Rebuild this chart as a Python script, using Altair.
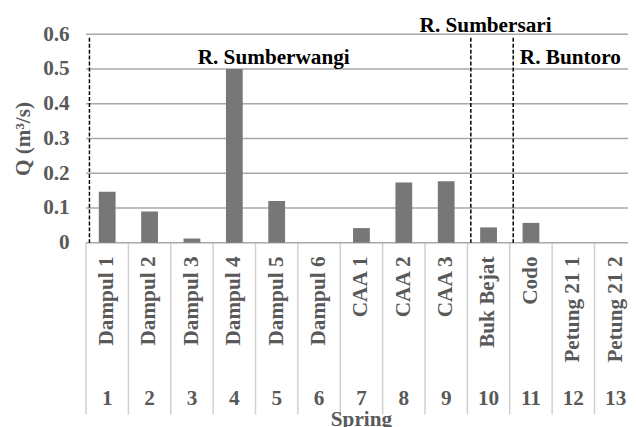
import altair as alt
import pandas as pd

# ---- data ----
nums = list(range(1, 14))
names = ["Dampul 1", "Dampul 2", "Dampul 3", "Dampul 4", "Dampul 5", "Dampul 6",
         "CAA 1", "CAA 2", "CAA 3", "Buk Bejat", "Codo", "Petung 21 1", "Petung 21 2"]
q = [0.147, 0.090, 0.012, 0.500, 0.120, 0.0, 0.042, 0.173, 0.177, 0.044, 0.057, 0.0, 0.0]
region_names = ["R. Sumberwangi", "R. Sumbersari", "R. Buntoro"]
region_x = [5, 10, 12]
region_y = [0.515, 0.606, 0.515]
divider_x = [1, 10, 11]
divider_top = [0.59, 0.59, 0.59]
y_ticks = [0, 0.1, 0.2, 0.3, 0.4, 0.5, 0.6]
x_title = ["Spring"]

FONT = "Liberation Serif, Times New Roman, serif"
GRAY = "#595959"
FS = 21.5

df = pd.DataFrame({"num": nums, "name": names, "q": q})
df_reg = pd.DataFrame({"num": region_x, "label": region_names, "y": region_y})
df_div = pd.DataFrame({"num": divider_x, "top": divider_top, "bottom": [0] * len(divider_x)})
df_title = pd.DataFrame({"t": x_title})
df_grid = pd.DataFrame({"v": y_ticks})

xs = alt.Scale(domain=nums, range=[0, 558], paddingInner=0, paddingOuter=0)
ys = alt.Scale(domain=[0, 0.6], nice=False, zero=True)

y_axis = alt.Axis(
    values=y_ticks,
    labelExpr="datum.value == 0 ? '0' : format(datum.value, '.1f')",
    labelFont=FONT, labelFontSize=FS, labelFontWeight="bold", labelColor=GRAY,
    labelPadding=17, ticks=False, domain=False, grid=False,
    title="Q (m³/s)", titleFont=FONT, titleFontSize=FS, titleFontWeight="bold",
    titleColor=GRAY, titleX=-63, titleBaseline="middle",
)

separators = alt.Chart(df).mark_rule(color="#d0d0d0", strokeWidth=1.5).encode(
    x=alt.X("num:O", scale=xs, axis=None, bandPosition=0),
    y=alt.value(211),
    y2=alt.value(385),
)

grid = alt.Chart(df_grid).mark_rule(color="#a8a8a8", strokeWidth=1.5).encode(
    y=alt.Y("v:Q", scale=ys, axis=y_axis),
)

bars = alt.Chart(df).mark_bar(size=17, color="#777777").encode(
    x=alt.X("num:O", scale=xs, axis=None),
    y=alt.Y("q:Q", scale=ys, axis=y_axis),
)

dividers = alt.Chart(df_div).mark_rule(color="black", strokeWidth=1.5,
                                       strokeDash=[4, 2], xOffset=3.5).encode(
    x=alt.X("num:O", scale=xs, axis=None, bandPosition=0),
    y=alt.Y("top:Q", scale=ys, axis=y_axis),
    y2=alt.Y2("bottom:Q"),
)

name_labels = alt.Chart(df).mark_text(
    angle=270, align="right", baseline="middle", font=FONT, fontSize=FS,
    fontWeight="bold", color=GRAY,
).encode(
    x=alt.X("num:O", scale=xs, axis=None),
    y=alt.value(225),
    text="name:N",
)

num_labels = alt.Chart(df).mark_text(
    align="center", baseline="middle", font=FONT, fontSize=FS,
    fontWeight="bold", color=GRAY,
).encode(
    x=alt.X("num:O", scale=xs, axis=None),
    y=alt.value(369),
    text="num:N",
)

xtitle = alt.Chart(df_title).mark_text(
    align="center", baseline="alphabetic", font=FONT, fontSize=FS,
    fontWeight="bold", color=GRAY,
).encode(
    x=alt.value(279),
    y=alt.value(397),
    text="t:N",
)

regions = alt.Chart(df_reg).mark_text(
    align="center", baseline="alphabetic", font=FONT, fontSize=FS,
    fontWeight="bold", color="black", dx=-3,
).encode(
    x=alt.X("num:O", scale=xs, axis=None),
    y=alt.Y("y:Q", scale=ys, axis=y_axis),
    text="label:N",
)

chart = alt.layer(
    separators, grid, bars, dividers, name_labels, num_labels, xtitle, regions
).properties(
    width=549,
    height=211,
    autosize=alt.AutoSizeParams(type="none"),
    padding={"left": 79, "top": 24, "right": 0, "bottom": 184},
    background="white",
).configure_view(stroke=None)

chart.save("out.html", embed_options={"renderer": "svg", "actions": False})
